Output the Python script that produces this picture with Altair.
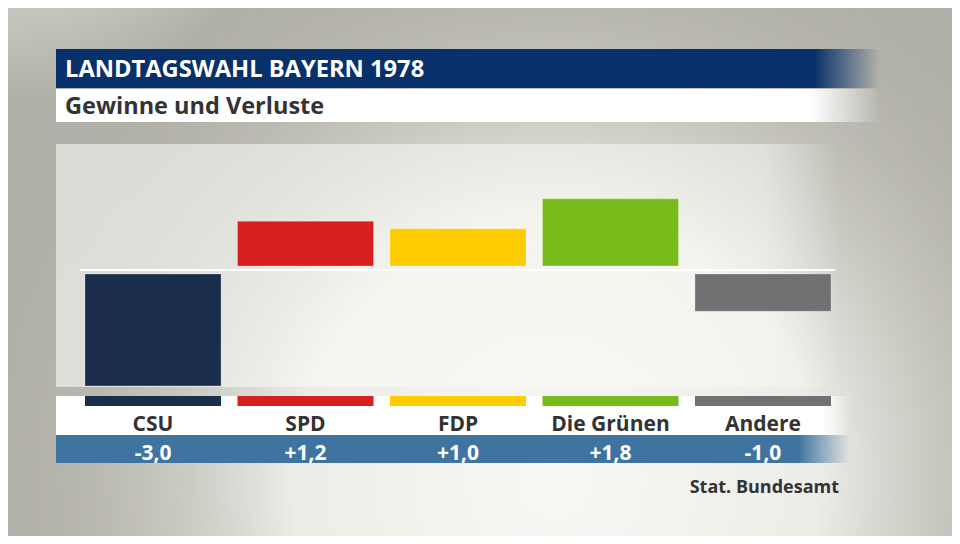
import altair as alt
import pandas as pd

# ---- data ----
parties = ["CSU", "SPD", "FDP", "Die Grünen", "Andere"]
changes = [-3.0, 1.2, 1.0, 1.8, -1.0]
colors = ["#1a2d4b", "#d71f1f", "#ffcc00", "#78bc1c", "#707173"]

title_text = "LANDTAGSWAHL BAYERN 1978"
subtitle_text = "Gewinne und Verluste"
source_text = "Stat. Bundesamt"

FONT = "Open Sans"
W, H = 944, 528

df = pd.DataFrame({"Partei": parties, "Wert": changes})
one = pd.DataFrame({"d": [0]})

xscale = alt.Scale(domain=parties, range=[77, 823], paddingInner=0.108, paddingOuter=0)
yscale = alt.Scale(domain=[-3, 2], range=[373.9, 187.4], nice=False, zero=False)
cscale = alt.Scale(domain=parties, range=colors)


def grad_lin(stops, x1=0, y1=0, x2=1, y2=0):
    return {"gradient": "linear", "x1": x1, "y1": y1, "x2": x2, "y2": y2,
            "stops": [{"offset": o, "color": c} for o, c in stops]}


def grad_rad(stops, x, y, r):
    return {"gradient": "radial", "x1": x, "y1": y, "r1": 0, "x2": x, "y2": y, "r2": r,
            "stops": [{"offset": o, "color": c} for o, c in stops]}


def deco_rect(x, x2, y, y2, fill):
    return alt.Chart(one).mark_rect(fill=fill, strokeWidth=0).encode(
        x=alt.value(x), x2=alt.value(x2), y=alt.value(y), y2=alt.value(y2))


def deco_text(txt, x, y, size, color, align="left", weight="bold"):
    return alt.Chart(one).mark_text(
        text=txt, align=align, baseline="alphabetic", font=FONT, fontSize=size,
        fontWeight=weight, color=color).encode(x=alt.value(x), y=alt.value(y))


# background
bg = deco_rect(0, W, 0, H, "#b1b0a8")
bg_light = deco_rect(0, W, 0, H, grad_rad(
    [(0, "rgba(248,248,244,1)"), (0.45, "rgba(240,240,235,0.95)"), (1, "rgba(177,176,168,0)")],
    0.58, 0.72, 0.62))
bg_corner = deco_rect(0, W, 0, H, grad_rad(
    [(0, "rgba(246,246,241,1)"), (1, "rgba(246,246,241,0)")], 0.0, 0.0, 0.32))

panel = deco_rect(48, 832, 136, 379, grad_lin(
    [(0, "rgba(250,250,246,0.6)"), (0.9, "rgba(250,250,246,0.5)"), (1, "rgba(250,250,246,0)")]))

title_bar = deco_rect(48, 872, 41, 80, grad_lin(
    [(0, "#08306a"), (0.92, "#08306a"), (1, "rgba(8,48,106,0)")]))
sub_bar = deco_rect(48, 872, 81, 114, grad_lin(
    [(0, "#ffffff"), (0.915, "#ffffff"), (1, "rgba(255,255,255,0)")]))
label_strip = deco_rect(48, 842, 388, 427, grad_lin(
    [(0, "#ffffff"), (0.965, "#ffffff"), (1, "rgba(255,255,255,0)")]))
value_strip = deco_rect(48, 842, 427, 455, grad_lin(
    [(0, "#3f73a0"), (0.935, "#3f73a0"), (1, "rgba(63,115,160,0)")]))

zero_rule = alt.Chart(one).mark_rule(color="#ffffff", strokeWidth=2).encode(
    y=alt.Y("d:Q", scale=yscale, axis=None), x=alt.value(72), x2=alt.value(827))

base = alt.Chart(df)
enc = dict(
    x=alt.X("Partei:N", scale=xscale, axis=None, sort=parties),
    y=alt.Y("Wert:Q", scale=yscale, axis=None),
    y2=alt.datum(0),
    color=alt.Color("Partei:N", scale=cscale, legend=None),
)
bars_pos = base.transform_filter("datum.Wert > 0").mark_bar(
    yOffset=-4, y2Offset=-4, stroke="#ffffff", strokeOpacity=0.25, strokeWidth=1).encode(**enc)
bars_neg = base.transform_filter("datum.Wert < 0").mark_bar(
    yOffset=4, y2Offset=4, stroke="#ffffff", strokeOpacity=0.25, strokeWidth=1).encode(**enc)

stubs = base.mark_bar().encode(
    x=alt.X("Partei:N", scale=xscale, axis=None, sort=parties),
    y=alt.value(388), y2=alt.value(398),
    color=alt.Color("Partei:N", scale=cscale, legend=None))

cat_labels = base.mark_text(font=FONT, fontSize=21, fontWeight="bold", color="#333333",
                            baseline="alphabetic").encode(
    x=alt.X("Partei:N", scale=xscale, axis=None, sort=parties),
    y=alt.value(423), text="Partei:N")

val_labels = base.transform_calculate(
    lab="(datum.Wert > 0 ? '+' : '-') + replace(format(abs(datum.Wert), '.1f'), '.', ',')"
).mark_text(font=FONT, fontSize=21, fontWeight="bold", color="#ffffff",
            baseline="alphabetic").encode(
    x=alt.X("Partei:N", scale=xscale, axis=None, sort=parties),
    y=alt.value(452), text="lab:N")

title = deco_text(title_text, 57, 69, 23.7, "#ffffff")
subtitle = deco_text(subtitle_text, 57, 106, 23.5, "#333333")
source = deco_text(source_text, 831, 485, 18, "#333333", align="right")

chart = alt.layer(
    bg, bg_light, bg_corner, panel, title_bar, sub_bar, label_strip, value_strip,
    zero_rule, bars_pos, bars_neg, stubs, cat_labels, val_labels, title, subtitle, source
).properties(
    width=W, height=H, autosize="none", padding=0
).configure_view(stroke=None, strokeWidth=0)

chart.save("out.html", embed_options={"renderer": "svg", "actions": False})
